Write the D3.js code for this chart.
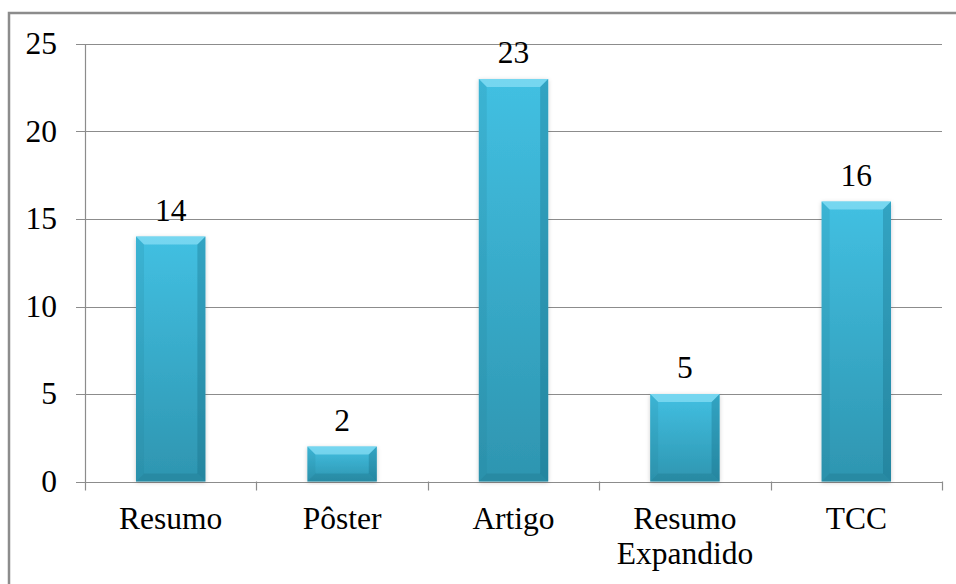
<!DOCTYPE html>
<html>
<head>
<meta charset="utf-8">
<script src="https://cdn.jsdelivr.net/npm/d3@7"></script>
<style>
    html, body { margin: 0; padding: 0; background: #fff; }
    text { font-family: 'Liberation Serif'; }
</style>
</head>
<body>
<div id="chart"></div>
<script>
// Chart data.
var categories = [['Resumo'], ['Pôster'], ['Artigo'], ['Resumo', 'Expandido'], ['TCC']];
var counts     = [14, 2, 23, 5, 16];
var yTicks     = [0, 5, 10, 15, 20, 25];

var width    = 956,
    height   = 584,
    margin   = {top: 44, right: 14, bottom: 102.5, left: 85},
    plotW    = width - margin.left - margin.right,
    plotH    = height - margin.top - margin.bottom,
    bevel    = 8,
    fontSize = 31.5;

var svg = d3.select('#chart').append('svg')
    .attr('width', width)
    .attr('height', height);

var defs = svg.append('defs');

var grad = defs.append('linearGradient')
    .attr('id', 'barFill')
    .attr('x1', 0).attr('y1', 0).attr('x2', 0).attr('y2', 1);
grad.append('stop').attr('offset', '0%').attr('stop-color', '#42c0e2');
grad.append('stop').attr('offset', '100%').attr('stop-color', '#2e95b0');

var shadow = defs.append('filter').attr('id', 'shadow')
    .attr('x', '-20%').attr('y', '-10%').attr('width', '140%').attr('height', '120%');
shadow.append('feDropShadow')
    .attr('dx', 0).attr('dy', 1).attr('stdDeviation', 2)
    .attr('flood-color', '#000').attr('flood-opacity', 0.2);

// Outer frame (runs off the right and bottom of the picture).
svg.append('rect')
    .attr('x', 9).attr('y', 13)
    .attr('width', width + 20).attr('height', height + 20)
    .attr('fill', 'none')
    .attr('stroke', '#8c8c8c')
    .attr('stroke-width', 2.5);

var g = svg.append('g')
    .attr('transform', 'translate(' + margin.left + ',' + margin.top + ')');

var x = d3.scaleBand()
    .domain(d3.range(categories.length))
    .range([0, plotW])
    .paddingInner(0.595)
    .paddingOuter(0.2975);

var xBand = d3.scaleBand()
    .domain(d3.range(categories.length))
    .range([0, plotW]);

var y = d3.scaleLinear()
    .domain([0, 25])
    .range([plotH, 0]);

// Gridlines.
g.append('g')
    .selectAll('line')
    .data(yTicks)
    .enter().append('line')
    .attr('x1', -9).attr('x2', plotW)
    .attr('y1', function (d) { return Math.round(y(d)) + 0.5; })
    .attr('y2', function (d) { return Math.round(y(d)) + 0.5; })
    .attr('stroke', '#8c8c8c')
    .attr('stroke-width', 1.2);

// Y axis line.
g.append('line')
    .attr('x1', 0.5).attr('x2', 0.5)
    .attr('y1', 0).attr('y2', plotH + 9)
    .attr('stroke', '#8c8c8c')
    .attr('stroke-width', 1.2);

// X axis tick marks at category boundaries.
g.append('g')
    .selectAll('line')
    .data(d3.range(1, categories.length + 1))
    .enter().append('line')
    .attr('x1', function (i) { return Math.round(i * xBand.step()) + 0.5; })
    .attr('x2', function (i) { return Math.round(i * xBand.step()) + 0.5; })
    .attr('y1', plotH).attr('y2', plotH + 9)
    .attr('stroke', '#8c8c8c')
    .attr('stroke-width', 1.2);

// Y tick labels.
g.append('g')
    .selectAll('text')
    .data(yTicks)
    .enter().append('text')
    .attr('x', -28)
    .attr('y', function (d) { return y(d); })
    .attr('dy', '0.33em')
    .attr('text-anchor', 'end')
    .attr('font-family', 'Liberation Serif')
    .attr('font-size', fontSize)
    .text(function (d) { return d; });

// Bars with a bevelled look.
var bars = g.selectAll('.bar')
    .data(counts)
    .enter().append('g')
    .attr('class', 'bar');

bars.append('rect')
    .attr('x', function (d, i) { return x(i); })
    .attr('y', function (d) { return y(d); })
    .attr('width', x.bandwidth())
    .attr('height', function (d) { return plotH - y(d); })
    .attr('fill', 'url(#barFill)')
    .attr('filter', 'url(#shadow)');

var b = function (h) { return Math.min(bevel, h / 2); };

function facet(pointsFn, fill, opacity) {
    bars.append('polygon')
        .attr('points', function (d, i) {
            return pointsFn(x(i), y(d), x.bandwidth(), plotH - y(d)).map(function (p) {
                return p.join(',');
            }).join(' ');
        })
        .attr('fill', fill)
        .attr('fill-opacity', opacity);
}

// top facet (light)
facet(function (x0, y0, w, h) {
    return [[x0, y0], [x0 + w, y0], [x0 + w - b(h), y0 + b(h)], [x0 + b(h), y0 + b(h)]];
}, '#9ae6fa', 0.6);
// left facet
facet(function (x0, y0, w, h) {
    return [[x0, y0], [x0 + b(h), y0 + b(h)], [x0 + b(h), y0 + h - b(h)], [x0, y0 + h]];
}, '#1f7d96', 0.18);
// right facet
facet(function (x0, y0, w, h) {
    return [[x0 + w, y0], [x0 + w, y0 + h], [x0 + w - b(h), y0 + h - b(h)], [x0 + w - b(h), y0 + b(h)]];
}, '#12647a', 0.3);
// bottom facet
facet(function (x0, y0, w, h) {
    return [[x0, y0 + h], [x0 + b(h), y0 + h - b(h)], [x0 + w - b(h), y0 + h - b(h)], [x0 + w, y0 + h]];
}, '#1a6f86', 0.3);

// Value labels.
g.append('g')
    .selectAll('text')
    .data(counts)
    .enter().append('text')
    .attr('x', function (d, i) { return x(i) + x.bandwidth() / 2; })
    .attr('y', function (d) { return y(d) - 16; })
    .attr('text-anchor', 'middle')
    .attr('font-family', 'Liberation Serif')
    .attr('font-size', fontSize)
    .text(function (d) { return d; });

// Category labels (may wrap onto two lines).
var labels = g.append('g')
    .selectAll('text')
    .data(categories)
    .enter().append('text')
    .attr('x', function (d, i) { return xBand(i) + xBand.bandwidth() / 2; })
    .attr('y', plotH + 47)
    .attr('text-anchor', 'middle')
    .attr('font-family', 'Liberation Serif')
    .attr('font-size', fontSize);

labels.selectAll('tspan')
    .data(function (d) { return d; })
    .enter().append('tspan')
    .attr('x', function () { return this.parentNode.getAttribute('x'); })
    .attr('dy', function (d, i) { return i === 0 ? 0 : 35; })
    .text(function (d) { return d; });

// Force text layout now, so the serif face is resolved before the snapshot.
svg.selectAll('text').each(function () {
    getComputedStyle(this).fontFamily;
    this.getComputedTextLength();
});
</script>
</body>
</html>
